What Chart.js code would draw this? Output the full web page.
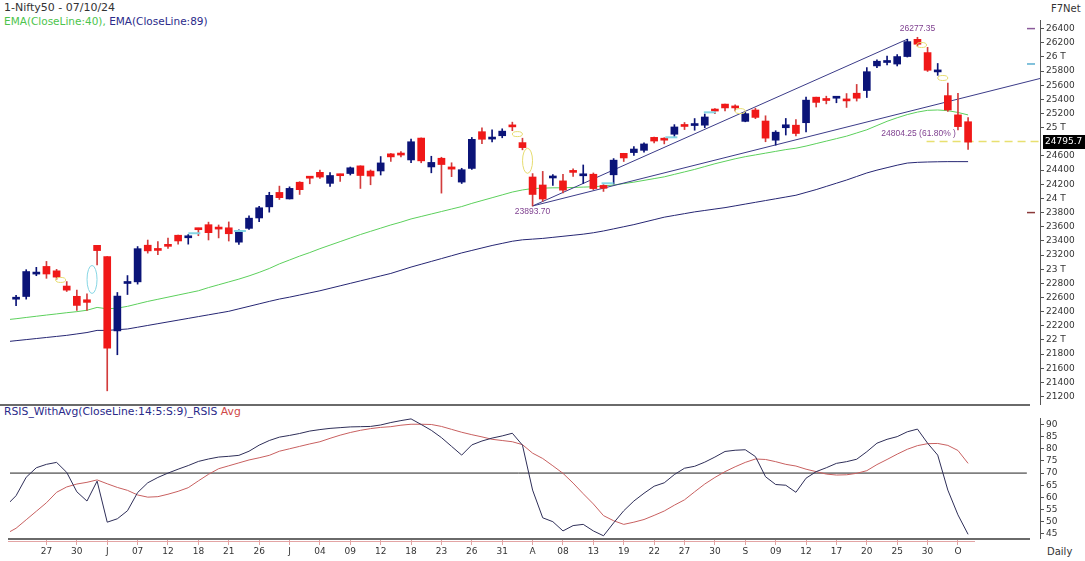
<!DOCTYPE html>
<html>
<head>
<meta charset="utf-8">
<title>Nifty50 daily</title>
<script src="https://cdn.jsdelivr.net/npm/chart.js@4.4.1/dist/chart.umd.min.js"></script>
<style>
  body { margin: 0; background: #fff; width: 1085px; height: 561px; overflow: hidden; position: relative; font-family: "DejaVu Sans", Verdana, sans-serif; }
  .t { position: absolute; font-size: 10.5px; line-height: 12px; white-space: nowrap; }
  canvas { position: absolute; left: 0; }
  .sep { position: absolute; left: 0; top: 404px; width: 1030px; height: 2px; background: #6a6a6a; }
</style>
</head>
<body>
<div class="t" style="left:4px;top:2px;color:#333;font-size:11px">1-Nifty50 - 07/10/24</div>
<div class="t" style="left:4px;top:15px"><span style="color:#4cc44c">EMA(CloseLine:40),</span> <span style="color:#2a2a8a">EMA(CloseLine:89)</span></div>
<div class="t" style="left:1051px;top:3px;color:#333;font-size:10px">F7Net</div>
<div class="t" style="left:4px;top:406px;color:#2a2a8a;font-size:10.8px">RSIS_WithAvg(CloseLine:14:5:S:9)_RSIS <span style="color:#d04848">Avg</span></div>
<div class="t" style="left:1047px;top:546px;color:#333;font-size:10px">Daily</div>
<div class="sep"></div>
<canvas id="price" width="1085" height="412" style="top:0"></canvas>
<canvas id="rsi" width="1085" height="155" style="top:406px"></canvas>
<script>
// candles 22 May 2024 .. 07 Oct 2024 (index 0..94)
const opens = [22576, 22614, 22931, 23039, 22977, 22762, 22617, 22568, 23337, 23179,
  22128, 22798, 22821, 23339, 23283, 23344, 23480, 23444, 23573, 23629,
  23571, 23585, 23382, 23577, 23724, 23881, 24085, 23993, 24229, 24291,
  24369, 24213, 24329, 24352, 24460, 24387, 24388, 24630, 24615, 24544,
  24853, 24445, 24568, 24445, 24231, 24424, 24943, 24839, 24886, 25030,
  24789, 24303, 24190, 24289, 24248, 24387, 24320, 24342, 24184, 24334,
  24637, 24648, 24680, 24863, 24846, 24907, 25024, 25030, 25035, 25249,
  25333, 25300, 25089, 25250, 25094, 24823, 24999, 25035, 25070, 25431,
  25406, 25416, 25402, 25487, 25525, 25873, 25921, 25899, 26005, 26248,
  26061, 25788, 25453, 25181, 25084];
const highs = [22629, 22993, 23026, 23110, 22998, 22825, 22705, 22653, 23339, 23179,
  22671, 22910, 23320, 23412, 23389, 23441, 23481, 23490, 23579, 23665,
  23625, 23668, 23558, 23754, 23889, 24087, 24174, 24164, 24237, 24309,
  24402, 24364, 24345, 24444, 24461, 24402, 24592, 24635, 24661, 24838,
  24855, 24596, 24582, 24504, 24426, 24862, 24999, 24971, 24984, 25078,
  24851, 24351, 24382, 24337, 24340, 24419, 24473, 24360, 24196, 24563,
  24638, 24734, 24787, 24867, 24858, 25043, 25073, 25129, 25193, 25269,
  25333, 25322, 25216, 25275, 25168, 24957, 25130, 25113, 25433, 25431,
  25445, 25441, 25482, 25611, 25849, 25957, 26011, 26033, 26250, 26277.35,
  26135, 25907, 25630, 25485, 25144];
const lows = [22483, 22577, 22908, 22871, 22858, 22685, 22418, 22417, 23062, 21281,
  21791, 22642, 22789, 23227, 23206, 23295, 23354, 23354, 23473, 23413,
  23442, 23398, 23350, 23562, 23673, 23806, 23985, 23992, 24056, 24207,
  24282, 24169, 24240, 24331, 24141, 24193, 24331, 24523, 24587, 24505,
  24504, 24362, 24075, 24308, 24211, 24410, 24774, 24798, 24857, 24957,
  24687, 23893.7, 23960, 24185, 24079, 24311, 24212, 24125, 24099, 24204,
  24522, 24607, 24654, 24784, 24771, 24875, 24973, 24964, 24999, 25199,
  25235, 25236, 25083, 25127, 24801, 24753, 24896, 24885, 24941, 25292,
  25336, 25352, 25286, 25376, 25426, 25847, 25886, 25872, 25998, 26152,
  25794, 25739, 25230, 24967, 24694];
const closes = [22598, 22967, 22957, 22932, 22888, 22704, 22488, 22531, 23263, 21885,
  22620, 22821, 23290, 23259, 23265, 23323, 23399, 23466, 23558, 23516,
  23567, 23501, 23538, 23721, 23868, 24044, 24011, 24142, 24124, 24286,
  24302, 24324, 24321, 24433, 24324, 24316, 24502, 24587, 24613, 24801,
  24531, 24509, 24479, 24414, 24406, 24835, 24836, 24858, 24951, 25011,
  24718, 24056, 23992, 24297, 24117, 24368, 24347, 24139, 24143, 24541,
  24572, 24698, 24770, 24811, 24823, 25010, 25017, 25052, 25151, 25235,
  25279, 25279, 25198, 25145, 24852, 24936, 25041, 24918, 25389, 25357,
  25384, 25419, 25378, 25416, 25791, 25939, 25940, 26005, 26216, 26179,
  25811, 25797, 25250, 25015, 24795.7];

// indicator series start one bar before the first visible candle
const lineStart = -1;
const ema40 = [22285, 22300, 22318, 22335, 22352, 22368, 22385, 22400, 22420, 22460,
  22440, 22450, 22475, 22510, 22545, 22575, 22605, 22635, 22665, 22695,
  22740, 22780, 22820, 22860, 22905, 22955, 23010, 23075, 23130, 23185,
  23235, 23290, 23340, 23390, 23440, 23490, 23535, 23580, 23625, 23665,
  23710, 23745, 23780, 23815, 23850, 23885, 23930, 23970, 24010, 24050,
  24090, 24120, 24140, 24145, 24150, 24150, 24155, 24160, 24165, 24175,
  24190, 24210, 24230, 24255, 24280, 24305, 24340, 24375, 24410, 24450,
  24490, 24525, 24560, 24590, 24615, 24640, 24665, 24690, 24710, 24740,
  24775, 24810, 24845, 24880, 24925, 24970, 25030, 25090, 25140, 25185,
  25220, 25245, 25250, 25240, 25215, 25180];
const ema89 = [21975, 21990, 22005, 22020, 22035, 22050, 22065, 22085, 22105, 22135,
  22135, 22145, 22155, 22180, 22205, 22230, 22255, 22280, 22305, 22330,
  22355, 22380, 22405, 22440, 22475, 22510, 22545, 22578, 22605, 22635,
  22665, 22695, 22730, 22765, 22800, 22835, 22870, 22905, 22940, 22985,
  23030, 23070, 23110, 23150, 23190, 23230, 23265, 23300, 23335, 23365,
  23395, 23415, 23425, 23435, 23450, 23465, 23480, 23495, 23515, 23540,
  23570, 23600, 23630, 23665, 23700, 23735, 23760, 23785, 23810, 23830,
  23850, 23870, 23895, 23920, 23945, 23970, 23995, 24020, 24045, 24085,
  24125, 24170, 24215, 24260, 24310, 24360, 24400, 24435, 24470, 24500,
  24510, 24515, 24518, 24520, 24520, 24520];
const rsis = [56.5, 60.7, 68.3, 72.2, 73.6, 74.4, 70.3, 62.3, 58.5, 66.7,
  49.8, 51.2, 54.5, 62.0, 66.0, 68.2, 70.0, 71.6, 73.1, 74.8,
  75.8, 76.6, 76.9, 77.3, 79.0, 81.5, 83.4, 84.8, 85.5, 86.3,
  87.3, 87.9, 88.4, 88.7, 89.0, 89.1, 89.2, 89.8, 90.8, 91.6,
  92.3, 90.0, 87.6, 84.6, 81.0, 77.4, 81.6, 83.2, 84.4, 85.3,
  86.4, 81.5, 63.0, 51.6, 50.0, 46.2, 48.4, 48.9, 46.2, 44.2,
  49.5, 54.5, 58.5, 61.7, 64.6, 66.0, 69.4, 72.0, 72.8, 74.5,
  76.6, 78.9, 79.4, 79.6, 76.8, 68.5, 65.3, 65.0, 62.1, 67.9,
  70.6, 72.2, 74.0, 74.7, 75.7, 78.8, 82.3, 83.9, 85.0, 87.0,
  88.1, 82.3, 77.4, 63.0, 52.8, 44.8];
const rsisAvg = [45.0, 47.3, 50.8, 54.3, 57.8, 62.1, 64.3, 65.5, 66.2, 67.2,
  65.6, 64.1, 62.9, 61.0, 60.1, 60.3, 61.3, 62.5, 64.0, 66.8,
  69.5, 71.8, 73.0, 74.2, 75.4, 76.3, 77.3, 79.0, 80.0, 81.0,
  82.0, 82.9, 84.3, 85.6, 86.7, 87.6, 88.3, 88.8, 89.1, 89.7,
  90.1, 90.1, 90.0, 89.2, 88.0, 86.8, 85.8, 84.9, 83.9, 83.4,
  82.9, 81.7, 78.2, 76.0, 73.0, 69.9, 65.9, 61.5, 57.3, 52.5,
  50.4, 48.9, 49.8, 50.9, 52.6, 54.4, 56.8, 59.0, 62.3, 65.5,
  68.2, 70.6, 72.6, 74.4, 75.8, 75.6, 74.7, 73.6, 72.9, 71.6,
  70.6, 69.6, 69.2, 69.3, 69.9, 71.0, 73.5, 75.6, 77.8, 79.8,
  81.3, 82.1, 82.2, 81.4, 79.3, 74.0];

// axis ticks
const priceTicks = [21200, 21400, 21600, 21800, 22000, 22200, 22400, 22600, 22800, 23000,
  23200, 23400, 23600, 23800, 24000, 24200, 24400, 24600, 25000, 25200,
  25400, 25600, 25800, 26000, 26200, 26400];
const priceTickLabels = ['21200', '21400', '21600', '21800', '22 T', '22200', '22400', '22600', '22800', '23 T',
  '23200', '23400', '23600', '23800', '24 T', '24200', '24400', '24600', '25 T', '25200',
  '25400', '25600', '25800', '26 T', '26200', '26400'];
const rsiTicks = [45, 50, 55, 60, 65, 70, 75, 80, 85, 90];
const dateTickIdx = [3, 6, 9, 12, 15, 18, 21, 24, 27, 30, 33, 36, 39, 42, 45, 48,
  51, 54, 57, 60, 63, 66, 69, 72, 75, 78, 81, 84, 87, 90, 93];
const dateTickLabels = ['27', '30', 'J', '07', '12', '18', '21', '26', 'J', '04', '09', '12', '18', '23', '26', '31',
  'A', '08', '13', '19', '22', '27', '30', 'S', '09', '12', '17', '20', '25', '30', 'O'];

// drawing tools on the chart: [startIdx, startVal, endIdx, endVal]
const trendLines = [[51, 23893.7, 88, 26250], [51, 23893.7, 101.1, 25695]];
const fibLevel = 24804.25, fibStart = 89.9;
const lastPrice = 24795.7;
const gapDots = [[4.4, 22848], [49.5, 24909], [71.5, 25234], [89.4, 26168], [91.5, 25702]];
const gapTallYellow = [[50.5, 24532]];
const gapTallCyan = [[7.5, 22855]];
const cyanDashes = [[17.6, 23508], [22.1, 23540], [58.4, 24214], [64.7, 24864], [68.5, 25217]];
const alertLevels = [[26400, '#8a5a9a'], [25900, '#5aaed0'], [23800, '#8b3a3a']];

const xMin = -0.6, xMax = 101.1;
const UP = '#0b1478', DOWN = '#f01818', DOWN_WICK = '#d23c3c';
const FONT = '"DejaVu Sans", Verdana, sans-serif';

const idx = closes.map((_, i) => i);
const up = i => closes[i] >= opens[i];
const asLine = arr => arr.map((v, k) => ({ x: k + lineStart, y: v }));

const priceDecor = {
  id: 'priceDecor',
  afterDatasetsDraw(chart) {
    const { ctx, scales: { x, y } } = chart;
    ctx.save();
    ctx.lineWidth = 1;
    ctx.strokeStyle = '#e6dc70';
    gapDots.forEach(([i, v]) => {
      ctx.beginPath(); ctx.ellipse(x.getPixelForValue(i), y.getPixelForValue(v), 5, 2.5, 0, 0, Math.PI * 2); ctx.stroke();
    });
    gapTallYellow.forEach(([i, v]) => {
      ctx.beginPath(); ctx.ellipse(x.getPixelForValue(i), y.getPixelForValue(v), 5, 12.5, 0, 0, Math.PI * 2); ctx.stroke();
    });
    ctx.strokeStyle = '#86d6e4';
    gapTallCyan.forEach(([i, v]) => {
      ctx.beginPath(); ctx.ellipse(x.getPixelForValue(i), y.getPixelForValue(v), 5, 14, 0, 0, Math.PI * 2); ctx.stroke();
    });
    ctx.lineWidth = 2;
    cyanDashes.forEach(([i, v]) => {
      const px = x.getPixelForValue(i), py = y.getPixelForValue(v);
      ctx.beginPath(); ctx.moveTo(px - 6, py); ctx.lineTo(px + 6, py); ctx.stroke();
    });
    // annotations
    ctx.fillStyle = '#7e3f8f';
    ctx.font = '8.5px "Liberation Sans", Arial, sans-serif';
    ctx.textAlign = 'center';
    ctx.textBaseline = 'middle';
    ctx.fillText('26277.35', x.getPixelForValue(89), y.getPixelForValue(26277.35) - 9);
    ctx.fillText('23893.70', x.getPixelForValue(51), y.getPixelForValue(23893.7) + 6);
    ctx.textAlign = 'right';
    ctx.fillText('24804.25 (61.80% )', x.getPixelForValue(92.8), y.getPixelForValue(fibLevel) - 8);
    // alert markers left of the axis
    ctx.lineWidth = 1.5;
    alertLevels.forEach(([v, c]) => {
      const py = y.getPixelForValue(v);
      ctx.strokeStyle = c;
      ctx.beginPath(); ctx.moveTo(1027, py); ctx.lineTo(1035, py); ctx.stroke();
    });
    ctx.restore();
  },
  afterDraw(chart) {
    const { ctx, scales: { y } } = chart;
    const py = y.getPixelForValue(lastPrice);
    ctx.save();
    ctx.fillStyle = '#000';
    ctx.fillRect(1043, Math.round(py) - 7, 42, 14);
    ctx.fillStyle = '#fff';
    ctx.font = '9px ' + FONT;
    ctx.textBaseline = 'middle';
    ctx.fillText(String(lastPrice), 1045, py);
    ctx.restore();
  }
};

new Chart(document.getElementById('price'), {
  type: 'bar',
  data: {
    datasets: [
      {
        label: 'wick', order: 1, grouped: false, barThickness: 1,
        data: idx.map(i => ({ x: i, y: [lows[i], highs[i]] })),
        backgroundColor: idx.map(i => up(i) ? UP : DOWN_WICK)
      },
      {
        label: 'body', order: 0, grouped: false, barThickness: 7, minBarLength: 2,
        data: idx.map(i => ({ x: i, y: [Math.min(opens[i], closes[i]), Math.max(opens[i], closes[i])] })),
        backgroundColor: idx.map(i => up(i) ? UP : DOWN)
      },
      { type: 'line', label: 'EMA40', order: 3, data: asLine(ema40), borderColor: '#5cd05c', borderWidth: 1, pointRadius: 0 },
      { type: 'line', label: 'EMA89', order: 3, data: asLine(ema89), borderColor: '#262673', borderWidth: 1, pointRadius: 0 },
      ...trendLines.map(t => ({
        type: 'line', label: 'trend', order: 2, borderColor: '#3b3b88', borderWidth: 1, pointRadius: 0,
        data: [{ x: t[0], y: t[1] }, { x: t[2], y: t[3] }]
      })),
      {
        type: 'line', label: 'fib', order: 2, borderColor: '#e8e070', borderWidth: 1.5, borderDash: [8, 5], pointRadius: 0,
        data: [{ x: fibStart, y: fibLevel }, { x: xMax, y: fibLevel }]
      }
    ]
  },
  options: {
    responsive: false, animation: false, events: [],
    layout: { padding: { left: 10, top: 20, right: 0, bottom: 8 } },
    plugins: { legend: { display: false }, tooltip: { enabled: false } },
    scales: {
      x: { type: 'linear', display: false, min: xMin, max: xMax, offset: false },
      y: {
        type: 'linear', position: 'right', min: 21095, max: 26521.5,
        afterBuildTicks: s => { s.ticks = priceTicks.map(v => ({ value: v })); },
        afterFit: s => { s.width = 45; },
        grid: { drawOnChartArea: false, drawTicks: true, tickLength: 4, color: '#555' },
        border: { display: true, color: '#555' },
        ticks: {
          autoSkip: false, color: '#333', padding: 2, font: { family: FONT, size: 9 },
          callback: (v, i) => priceTickLabels[i]
        }
      }
    }
  },
  plugins: [priceDecor]
});

const rsiDecor = {
  id: 'rsiDecor',
  afterDraw(chart) {
    const { ctx, chartArea } = chart;
    ctx.save();
    ctx.fillStyle = '#6a6a6a';
    ctx.fillRect(8, chartArea.bottom, 1022, 2);
    ctx.fillStyle = '#e3a4a4';
    ctx.fillRect(8, chartArea.bottom + 3, 967, 1);
    ctx.restore();
  }
};

new Chart(document.getElementById('rsi'), {
  type: 'line',
  data: {
    datasets: [
      { label: '70', data: [{ x: xMin, y: 70 }, { x: 99.8, y: 70 }], borderColor: '#222', borderWidth: 1, pointRadius: 0, order: 3 },
      { label: 'Avg', data: asLine(rsisAvg), borderColor: '#c86060', borderWidth: 1, pointRadius: 0, order: 2 },
      { label: 'RSIS', data: asLine(rsis), borderColor: '#2e2e58', borderWidth: 1, pointRadius: 0, order: 1 }
    ]
  },
  options: {
    responsive: false, animation: false, events: [],
    layout: { padding: { left: 10, top: 12, right: 0, bottom: 0 } },
    plugins: { legend: { display: false }, tooltip: { enabled: false } },
    scales: {
      x: {
        type: 'linear', position: 'bottom', min: xMin, max: xMax, offset: false,
        afterBuildTicks: s => { s.ticks = dateTickIdx.map(v => ({ value: v })); },
        afterFit: s => { s.height = 23; },
        grid: { drawOnChartArea: false, drawTicks: true, tickLength: 7, color: '#e3a4a4' },
        border: { display: false },
        ticks: {
          autoSkip: false, maxRotation: 0, padding: 1, color: '#333', font: { family: FONT, size: 9 },
          callback: (v, i) => dateTickLabels[i]
        }
      },
      y: {
        type: 'linear', position: 'right', min: 43.29, max: 92.67,
        afterBuildTicks: s => { s.ticks = rsiTicks.map(v => ({ value: v })); },
        afterFit: s => { s.width = 45; },
        grid: { drawOnChartArea: false, drawTicks: true, tickLength: 4, color: '#555' },
        border: { display: true, color: '#555' },
        ticks: { autoSkip: false, color: '#333', padding: 2, font: { family: FONT, size: 9 } }
      }
    }
  },
  plugins: [rsiDecor]
});
</script>
</body>
</html>
